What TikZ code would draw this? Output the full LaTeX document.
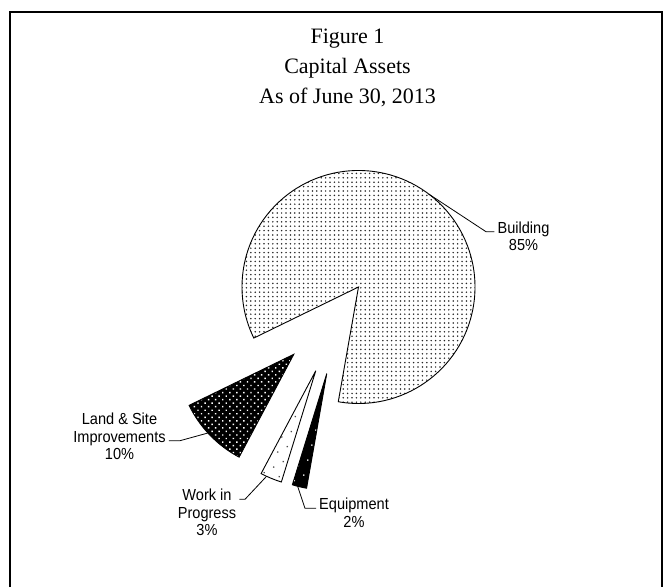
\documentclass[tikz,border=0pt]{standalone}
\usepackage{fontspec}
\setmainfont{Liberation Serif}
\newfontfamily\lblfont[FakeStretch=0.91]{Liberation Sans}
\usetikzlibrary{calc}
\usetikzlibrary{patterns.meta}

\begin{document}
\begin{tikzpicture}[x=1pt,y=1pt,
    slice/.style={draw=black, line width=0.9pt, line join=miter},
    leader/.style={draw=black, line width=0.8pt},
    lbl/.style={font=\lblfont\fontsize{16}{17.6}\selectfont, align=center, inner sep=3pt},
    title/.style={font=\fontsize{22}{30}\selectfont, align=center}
    ]
    \useasboundingbox (0,0) rectangle (671,587);
    % frame, open at the bottom
    \draw[line width=2pt] (9.7,0) |- (662,575) -- (662,0);

    \node[title, anchor=base] (title) at (347.5,483.7) {Figure 1\\Capital Assets\\As of June 30, 2013};

    \def\R{116.5}
    % apex of each exploded slice
    \coordinate (bld) at (358.5,300);
    \coordinate (land) at (293.8,232.7);
    \coordinate (work) at (315.8,216.3);
    \coordinate (equip) at (326.8,213.5);

    \draw[slice, pattern={Dots[distance=4.4pt,radius=0.85pt]}, pattern color=black!85]
        (bld) -- ++(260:\R) arc[start angle=260, end angle=566, radius=\R] -- cycle;
    \draw[slice, preaction={fill=black}, pattern={Dots[distance=5pt,angle=45,radius=1pt]}, pattern color=white]
        (land) -- ++(206:\R) arc[start angle=206, end angle=242, radius=\R] -- cycle;
    \draw[slice, pattern={Dots[distance=11pt,angle=30,radius=0.9pt]}, pattern color=black!70]
        (work) -- ++(242:\R) arc[start angle=242, end angle=252.8, radius=\R] -- cycle;
    \draw[slice, preaction={fill=black}, pattern={Dots[distance=11pt,angle=30,radius=0.9pt]}, pattern color=white]
        (equip) -- ++(252.8:\R) arc[start angle=252.8, end angle=260, radius=\R] -- cycle;

    % labels (base = last line)
    \node[lbl, anchor=base] (bld-lbl) at (523.5,336.1) {Building\\85\%};
    \node[lbl, anchor=base] (land-lbl) at (119.5,127.4) {Land \& Site\\Improvements\\10\%};
    \node[lbl, anchor=base] (work-lbl) at (207,51.3) {Work in\\Progress\\3\%};
    \node[lbl, anchor=base] (equip-lbl) at (354,60) {Equipment\\2\%};

    % leader lines
    \coordinate (bld-elb) at (486,355.3);
    \coordinate (land-elb) at (180,146.3);
    \coordinate (work-elb) at (245,87.7);
    \coordinate (equip-elb) at (305,78.7);
    \draw[leader] ($(bld)+(53:\R)$) -- (bld-elb) -- (bld-elb -| bld-lbl.west);
    \draw[leader] ($(land)+(222.5:\R)$) -- (land-elb) -- (land-elb -| land-lbl.east);
    \draw[leader] ($(work)+(245:\R)$) -- (work-elb) -- (work-elb -| work-lbl.east);
    \draw[leader] ($(equip)+(255.5:\R)$) -- (equip-elb) -- (equip-elb -| equip-lbl.west);
\end{tikzpicture}
\end{document}
